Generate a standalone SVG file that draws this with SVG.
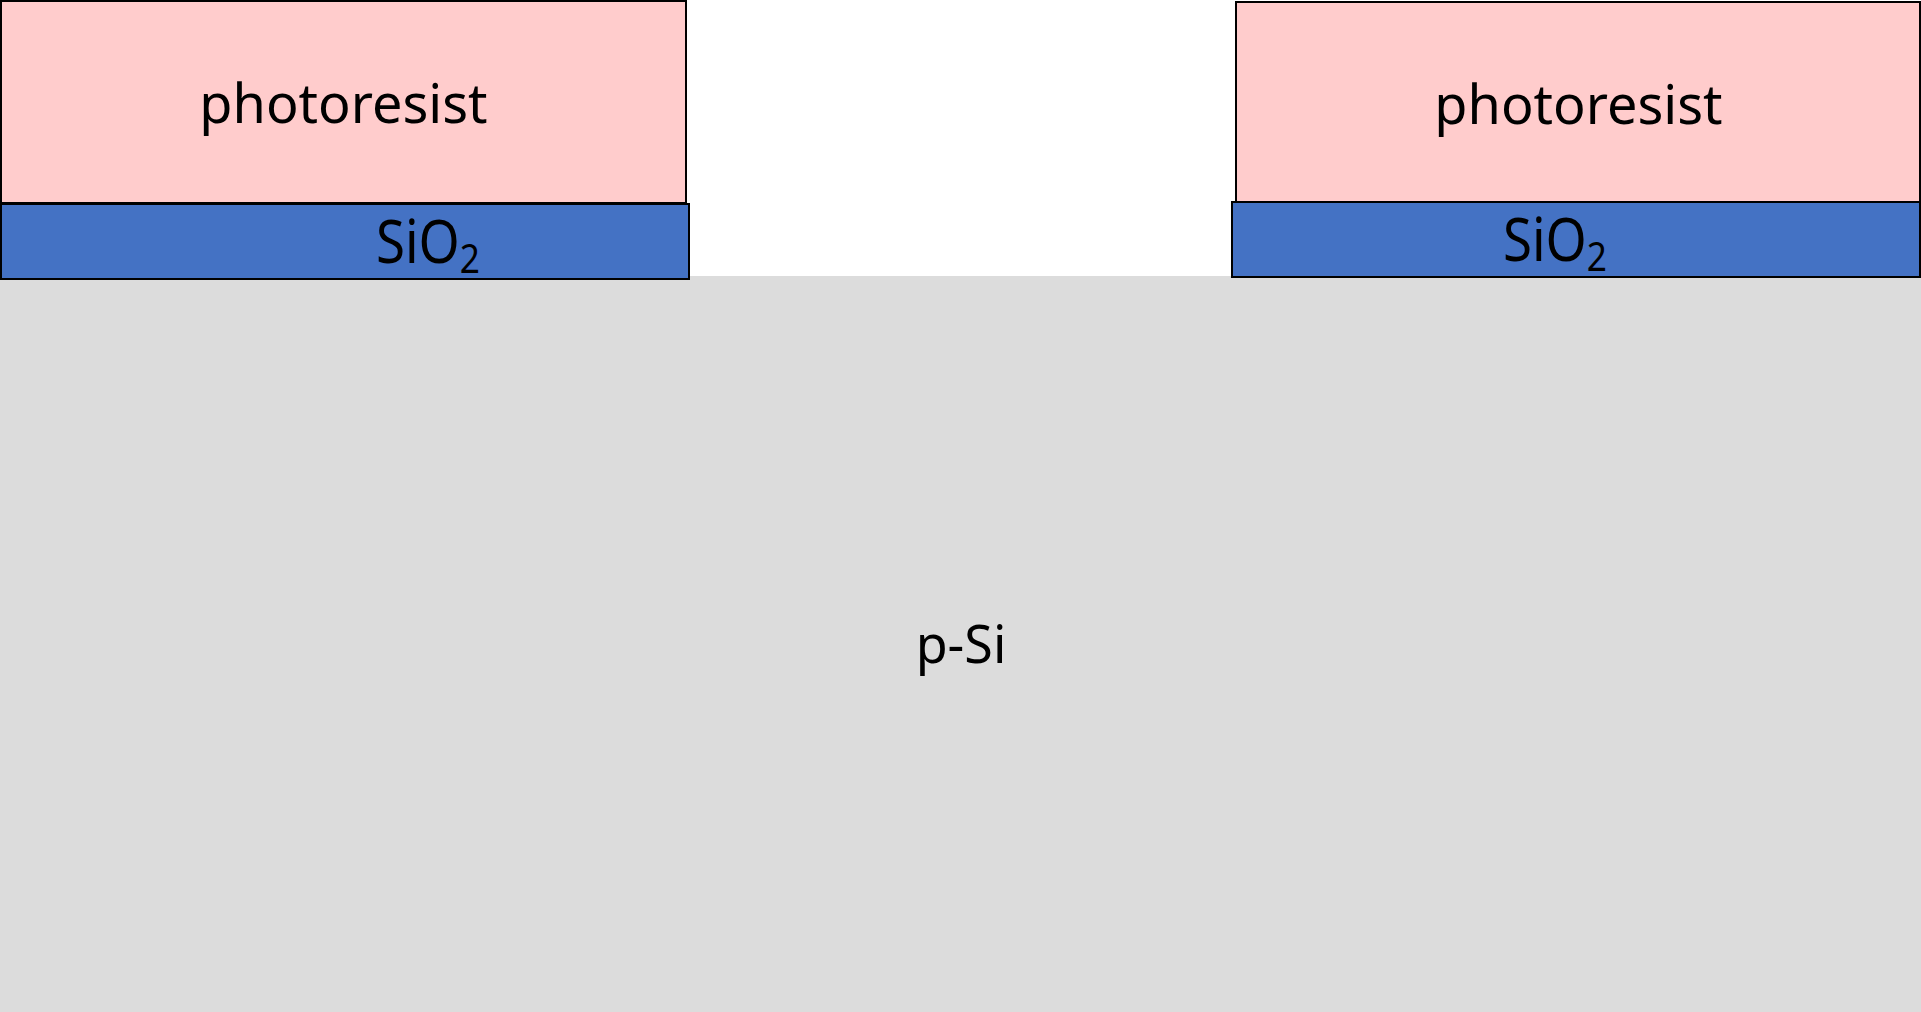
<svg xmlns="http://www.w3.org/2000/svg" width="1921" height="1012" viewBox="0 0 1921 1012">
  <style>
    .resist { fill: #FFCCCC; stroke: #000; stroke-width: 2; }
    .oxide { fill: #4472C4; stroke: #000; stroke-width: 2; }
    .substrate { fill: #DCDCDC; }
    .label { font-family: "Noto Sans", "Open Sans", sans-serif; fill: #000; }
  </style>
  <rect x="0" y="0" width="1921" height="1012" fill="#FFFFFF"/>

  <!-- p-type silicon substrate -->
  <g id="substrate">
    <rect class="substrate" x="0" y="276" width="1921" height="736"/>
    <text class="label" x="961" y="663" font-size="52" text-anchor="middle">p-Si</text>
  </g>

  <!-- left oxide pad -->
  <g id="oxide-left">
    <rect class="oxide" x="1" y="204" width="688" height="75"/>
    <text class="label" transform="translate(376 263) scale(0.88 1)" font-size="60">SiO<tspan font-size="40" dy="10">2</tspan></text>
  </g>

  <!-- right oxide pad -->
  <g id="oxide-right">
    <rect class="oxide" x="1232" y="202" width="688" height="75"/>
    <text class="label" transform="translate(1503 261) scale(0.88 1)" font-size="60">SiO<tspan font-size="40" dy="10">2</tspan></text>
  </g>

  <!-- left photoresist block -->
  <g id="resist-left">
    <rect class="resist" x="1" y="1" width="685" height="202"/>
    <text class="label" x="343.5" y="123" font-size="54" text-anchor="middle">photoresist</text>
  </g>

  <!-- right photoresist block -->
  <g id="resist-right">
    <rect class="resist" x="1236" y="2" width="684" height="200"/>
    <text class="label" x="1578.5" y="124" font-size="54" text-anchor="middle">photoresist</text>
  </g>
</svg>
